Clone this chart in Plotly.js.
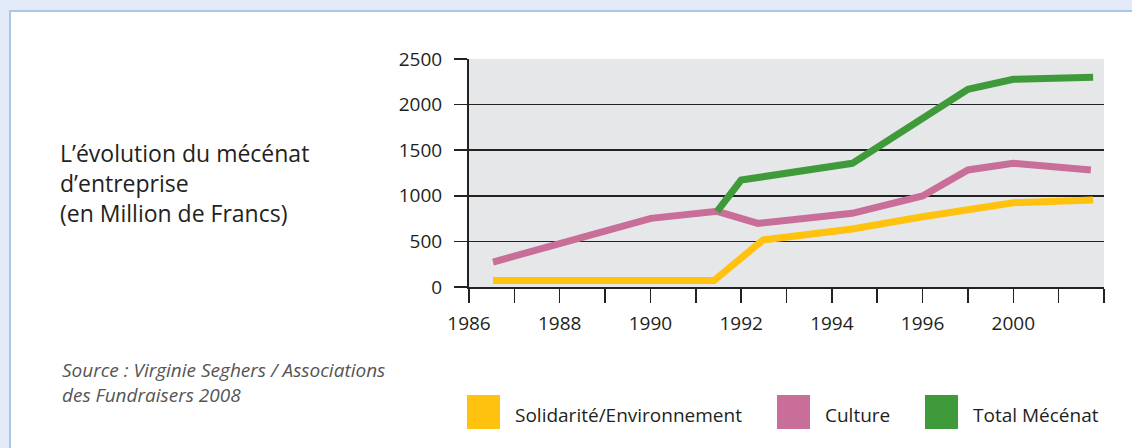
<!DOCTYPE html>
<html>
<head>
<meta charset="utf-8">
<script src="https://cdn.plot.ly/plotly-3.0.1.min.js"></script>
<style>
  html, body { margin: 0; padding: 0; width: 1132px; height: 448px; overflow: hidden; background: #e4ebf8; }
  #frame { position: absolute; left: 9px; top: 10px; width: 1200px; height: 500px; background: #ffffff;
           border-left: 2px solid #aac6ea; border-top: 2px solid #aac6ea; }
  #chart { position: absolute; left: 0; top: 0; width: 1132px; height: 448px; }
</style>
</head>
<body>
<div id="frame"></div>
<div id="chart"></div>
<script>
// ---- data (x in axis tick units: tick 0 = "1986", one tick per step) ----
const tickVals = [0, 1, 2, 3, 4, 5, 6, 7, 8, 9, 10, 11, 12, 13, 14];
const tickText = ["1986", "", "1988", "", "1990", "", "1992", "", "1994", "", "1996", "", "2000", "", ""];

const seriesNames = ["Solidarité/Environnement", "Culture", "Total Mécénat"];
const seriesColors = ["#ffc20e", "#c86e98", "#3f9b3a"];

const solidariteX = [0.53, 5.40, 6.48, 8.45, 10.0, 12.0, 13.76];
const solidariteY = [70, 70, 515, 636, 771, 924, 954];

const cultureX = [0.53, 4.01, 5.47, 6.37, 8.45, 10.0, 11.0, 12.0, 13.71];
const cultureY = [274, 753, 830, 698, 808, 998, 1283, 1356, 1283];

const totalX = [5.47, 6.0, 8.45, 11.0, 12.0, 13.76];
const totalY = [830, 1173, 1356, 2168, 2278, 2300];

const yTicks = [0, 500, 1000, 1500, 2000, 2500];

const titleText = "L’évolution du mécénat<br>d’entreprise<br>(en Million de Francs)";
const sourceText = "Source : Virginie Seghers / Associations<br>des Fundraisers 2008";

// ---- layout helpers (pixel -> paper) ----
const W = 1132, H = 448;
const M = { l: 469, r: 28, t: 59, b: 161 };
const PW = W - M.l - M.r, PH = H - M.t - M.b;
const px = p => (p - M.l) / PW;
const py = p => (H - M.b - p) / PH;

const xs = [solidariteX, cultureX, totalX];
const ys = [solidariteY, cultureY, totalY];

const traces = seriesNames.map((name, i) => ({
  type: "scatter", mode: "lines", name: name,
  x: xs[i], y: ys[i],
  line: { color: seriesColors[i], width: 7 },
  showlegend: false, hoverinfo: "x+y+name"
}));

// custom legend with large square swatches
const legendSwatchX = [467, 777, 925];
const shapes = [];
const annotations = [];
seriesNames.forEach((name, i) => {
  shapes.push({
    type: "rect", xref: "paper", yref: "paper", layer: "above",
    x0: px(legendSwatchX[i]), x1: px(legendSwatchX[i] + 33),
    y0: py(429), y1: py(395),
    fillcolor: seriesColors[i], line: { width: 0 }
  });
  annotations.push({
    xref: "paper", yref: "paper", x: px(legendSwatchX[i] + 46), y: py(415),
    xanchor: "left", yanchor: "middle", showarrow: false, text: name,
    font: { family: "Open Sans, sans-serif", size: 19, color: "#231f20" }
  });
});

annotations.push({
  xref: "paper", yref: "paper", x: px(60), y: py(382),
  xanchor: "left", yanchor: "middle", align: "left", showarrow: false,
  text: "<i>" + sourceText + "</i>",
  font: { family: "Open Sans, sans-serif", size: 19, color: "#555555" }
});

const layout = {
  width: W, height: H,
  margin: M,
  paper_bgcolor: "rgba(0,0,0,0)",
  plot_bgcolor: "#e6e7e8",
  font: { family: "Open Sans, sans-serif", color: "#231f20" },
  title: {
    text: titleText,
    xref: "container", yref: "container",
    x: 60 / W, xanchor: "left",
    y: 1 - 162 / H, yanchor: "middle",
    font: { family: "Open Sans, sans-serif", size: 23, color: "#231f20" }
  },
  xaxis: {
    range: [0, 14],
    tickmode: "array", tickvals: tickVals, ticktext: tickText,
    showgrid: false, zeroline: false,
    showline: true, linecolor: "#222222", linewidth: 2,
    ticks: "outside", ticklen: 14, tickwidth: 1.5, tickcolor: "#222222",
    ticklabelstandoff: 4,
    tickfont: { size: 19, color: "#231f20" },
    fixedrange: true
  },
  yaxis: {
    range: [0, 2500],
    tickmode: "array", tickvals: yTicks,
    showgrid: true, gridcolor: "#222222", gridwidth: 1.5,
    zeroline: false,
    showline: true, linecolor: "#222222", linewidth: 2,
    ticks: "outside", ticklen: 13, tickwidth: 1.5, tickcolor: "#222222",
    ticklabelstandoff: 8,
    tickfont: { size: 19, color: "#231f20" },
    fixedrange: true
  },
  shapes: shapes,
  annotations: annotations,
  showlegend: false
};

Plotly.newPlot("chart", traces, layout, { displayModeBar: false, staticPlot: true });
</script>
</body>
</html>
